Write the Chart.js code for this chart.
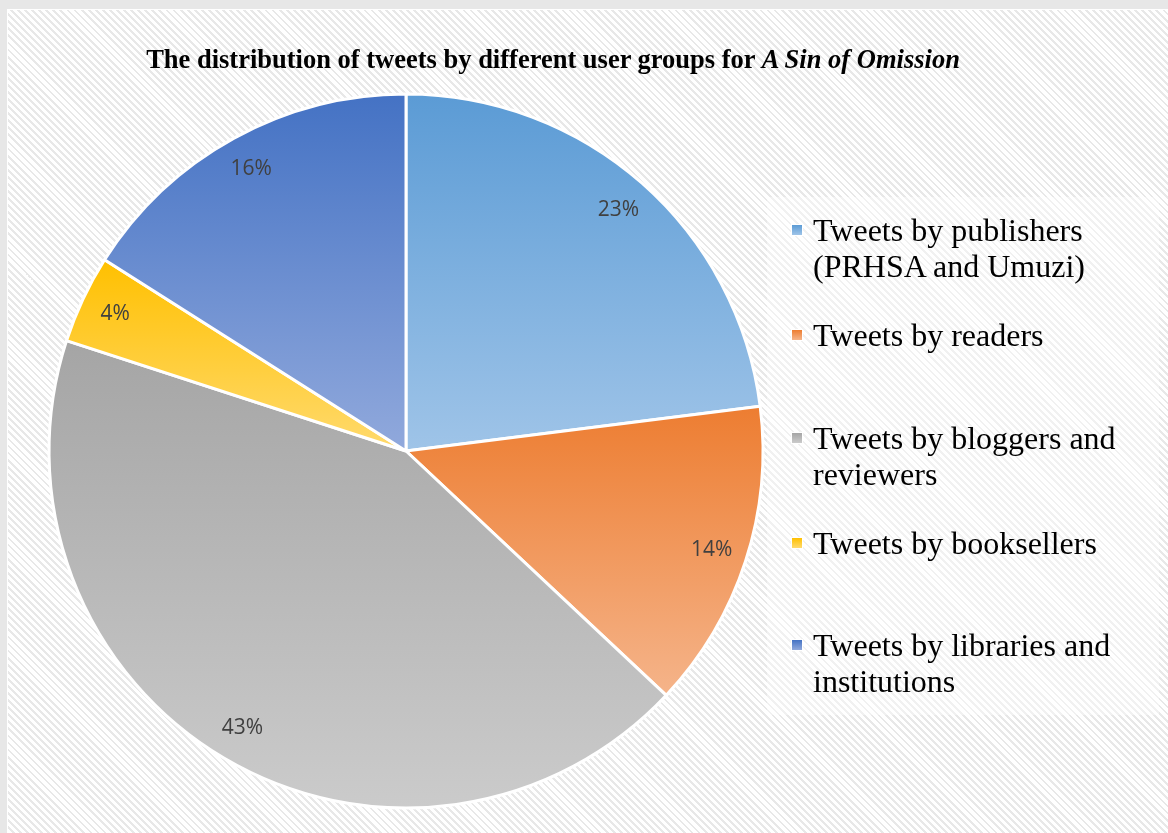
<!DOCTYPE html>
<html lang="en">
    <head>
        <meta charset="utf-8">
        <script src="https://cdn.jsdelivr.net/npm/chart.js@4.4.1/dist/chart.umd.min.js"></script>
        <title>Tweets by user group</title>
        <style>
            html, body { margin: 0; padding: 0; }
            body { width: 1168px; height: 833px; background: #e7e7e7; overflow: hidden; position: relative; }
            .frame {
                position: absolute; left: 7px; top: 9px; right: 0; bottom: 0;
                border-top: 1px solid #ffffff; border-left: 1px solid #ffffff;
                background: repeating-linear-gradient(45deg, #ffffff 0px, #ffffff 3px, #e8e8e8 3px, #e8e8e8 5px);
            }
            #myChart { position: absolute; left: 0; top: 0; }
            .title {
                position: absolute; left: 53px; width: 1000px; top: 44px;
                text-align: center; font-family: "Liberation Serif", "Times New Roman", serif;
                font-weight: bold; font-size: 26.5px; line-height: 30px; color: #000;
            }
            .legend-box {
                position: absolute; left: 767px; top: 197px; width: 392px; height: 518px;
                background: rgba(255, 255, 255, 0.4);
            }
            .legend-item {
                position: absolute; left: 813px; width: 340px;
                font-family: "Liberation Serif", "Times New Roman", serif;
                font-size: 32px; line-height: 36px; color: #000;
            }
            .legend-item span.box {
                position: absolute; left: -22px; top: 12px; width: 10px; height: 10px;
                border: 1px solid #ffffff;
            }
        </style>
    </head>
    <body>
        <div class="frame"></div>
        <div class="legend-box"></div>
        <canvas id="myChart" width="1168" height="833"></canvas>
        <div class="title">The distribution of tweets by different user groups for <i>A Sin of Omission</i></div>
        <div id="legend"></div>

        <script>
            // user groups, clockwise from 12 o'clock
            const groups = [
                'Tweets by publishers (PRHSA and Umuzi)',
                'Tweets by readers',
                'Tweets by bloggers and reviewers',
                'Tweets by booksellers',
                'Tweets by libraries and institutions'
            ];
            // share of tweets, percent
            const shares = [23, 14, 43, 4, 16];

            // each slice is a vertical gradient, darker at the top
            const topColors = ['#5b9bd5', '#ed7d31', '#a5a5a5', '#ffc000', '#4472c4'];
            const bottomColors = ['#9fc4e8', '#f5b48a', '#cbcbcb', '#ffda6e', '#91a9dc'];

            // top of each legend entry
            const legendTops = [212, 317, 420, 525, 627];

            // gradient fill per slice, spanning the slice's own height
            const sliceGradient = {
                id: 'sliceGradient',
                beforeDatasetsDraw(chart) {
                    const ctx = chart.ctx;
                    chart.getDatasetMeta(0).data.forEach((arc, i) => {
                        const p = arc.getProps(['x', 'y', 'startAngle', 'endAngle', 'outerRadius'], true);
                        const ys = [p.y, p.y + Math.sin(p.startAngle) * p.outerRadius, p.y + Math.sin(p.endAngle) * p.outerRadius];
                        [-Math.PI / 2, Math.PI / 2, 3 * Math.PI / 2].forEach(a => {
                            if (a >= p.startAngle && a <= p.endAngle) ys.push(p.y + Math.sin(a) * p.outerRadius);
                        });
                        const g = ctx.createLinearGradient(0, Math.min(...ys), 0, Math.max(...ys));
                        g.addColorStop(0, topColors[i]);
                        g.addColorStop(1, bottomColors[i]);
                        arc.options.backgroundColor = g;
                    });
                }
            };

            // percentage labels near the rim of each slice
            const sliceLabels = {
                id: 'sliceLabels',
                afterDatasetsDraw(chart) {
                    const ctx = chart.ctx;
                    ctx.save();
                    ctx.font = '21px "Open Sans", sans-serif';
                    ctx.fillStyle = '#404040';
                    ctx.textAlign = 'center';
                    ctx.textBaseline = 'middle';
                    chart.getDatasetMeta(0).data.forEach((arc, i) => {
                        const p = arc.getProps(['x', 'y', 'startAngle', 'endAngle', 'outerRadius'], true);
                        const mid = (p.startAngle + p.endAngle) / 2;
                        const r = p.outerRadius * 0.9;
                        ctx.fillText(shares[i] + '%', p.x + Math.cos(mid) * r, p.y + Math.sin(mid) * r);
                    });
                    ctx.restore();
                }
            };

            let myChart = document.getElementById('myChart').getContext('2d');
            let pieChart = new Chart(myChart, {
                type: 'pie',
                plugins: [sliceGradient, sliceLabels],
                data: {
                    labels: groups,
                    datasets: [{
                        data: shares,
                        backgroundColor: topColors,
                        borderColor: '#ffffff',
                        borderWidth: 3
                    }]
                },
                options: {
                    responsive: false,
                    animation: false,
                    events: [],
                    layout: {
                        padding: { left: 47.5, top: 92.5, right: 403.5, bottom: 23.5 }
                    },
                    plugins: {
                        legend: { display: false },
                        tooltip: { enabled: false },
                        title: { display: false }
                    }
                }
            });

            // html legend built from the same groups
            const legend = document.getElementById('legend');
            groups.forEach((name, i) => {
                const item = document.createElement('div');
                item.className = 'legend-item';
                item.style.top = legendTops[i] + 'px';
                const box = document.createElement('span');
                box.className = 'box';
                box.style.background = 'linear-gradient(' + topColors[i] + ', ' + bottomColors[i] + ')';
                item.appendChild(box);
                item.appendChild(document.createTextNode(name));
                legend.appendChild(item);
            });
        </script>
    </body>
</html>
